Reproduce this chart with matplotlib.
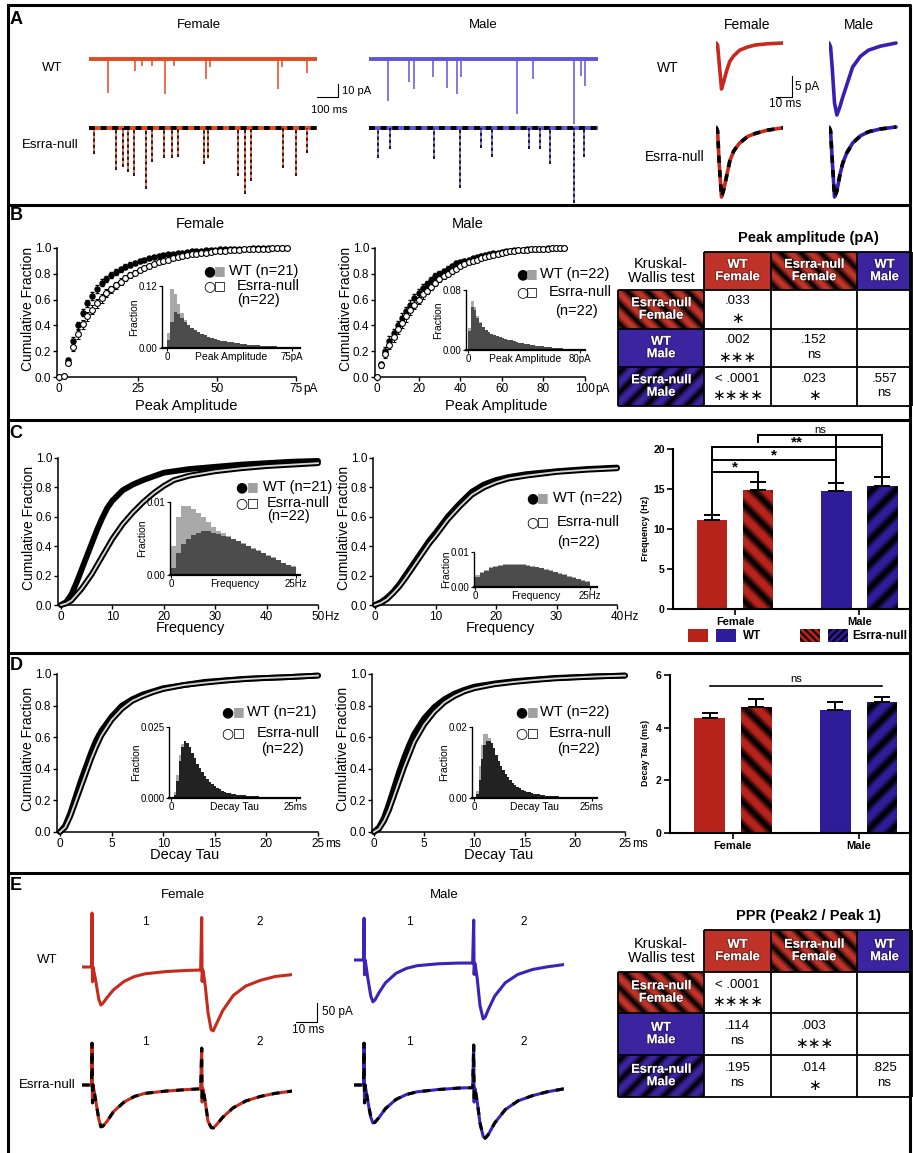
import numpy as np
import matplotlib
matplotlib.use("Agg")
import matplotlib.pyplot as plt
from matplotlib.patches import Rectangle, Polygon
from matplotlib.transforms import IdentityTransform
import matplotlib.patheffects as pe
import logging
logging.getLogger("matplotlib.font_manager").setLevel(logging.ERROR)

# ============================ DATA ============================
# Panel A: spontaneous traces, event time (ms) and amplitude (pA)
trace_len_ms = 1086
a_fwt_t = [89, 217, 253, 302, 362, 405, 557, 577, 898, 918, 1040]
a_fwt_amp = [26, 9, 5, 5, 27, 5, 15, 6, 23, 6, 11]
a_mwt_t = [92, 188, 213, 302, 371, 415, 434, 700, 780, 973, 1007, 1026]
a_mwt_amp = [32, 18, 23, 14, 22, 27, 14, 42, 15, 50, 13, 21]
a_fnull_t = [24, 128, 162, 188, 212, 273, 302, 355, 395, 425, 548, 567, 711, 741, 770, 924, 987, 1037]
a_fnull_amp = [20, 32, 30, 34, 37, 47, 26, 23, 23, 22, 28, 23, 37, 51, 41, 31, 37, 19]
a_mnull_t = [43, 99, 306, 430, 533, 582, 760, 809, 859, 973, 1021]
a_mnull_amp = [23, 16, 24, 46, 15, 22, 16, 16, 28, 58, 22]
# Panel A: averaged mEPSCs (ms, pA)
avg_t = [0, 0.8, 1.6, 2.8, 4, 5.5, 7, 9, 12, 16, 20, 26, 34]
avg_fwt = [0, -0.5, -5, -11.5, -9.5, -6.8, -4.6, -3.2, -1.8, -1.0, -0.5, -0.2, 0]
avg_mwt = [0, -1, -6, -15, -18, -16, -13.5, -10.5, -6, -3.3, -1.8, -0.8, 0]
avg_fnull = [0, -1, -9, -17.5, -15.5, -12, -8.5, -6, -4, -2.4, -1.6, -0.8, -0.2]
avg_mnull = [0, -1, -8, -17.5, -16, -12, -9, -6.5, -4, -2.2, -1.2, -0.5, 0]

# Panel B: cumulative peak amplitude
b_f_amp = [0, 1.5, 3, 4.5, 6, 7.5, 9, 10.5, 12, 13.5, 15, 16.5, 18, 19.5, 21, 22.5, 24, 25.5, 27, 28.5,
           30, 31.5, 33, 34.5, 36, 37.5, 39, 40.5, 42, 43.5, 45, 46.5, 48, 49.5, 51, 52.5, 54, 55.5, 57,
           58.5, 60, 61.5, 63, 64.5, 66, 67.5, 69, 70.5, 72]
b_f_wt = [0.00, 0.01, 0.13, 0.28, 0.40, 0.50, 0.57, 0.63, 0.68, 0.73, 0.76, 0.79, 0.815, 0.835, 0.855, 0.87,
          0.885, 0.90, 0.91, 0.92, 0.93, 0.94, 0.945, 0.95, 0.955, 0.96, 0.965, 0.97, 0.975, 0.978, 0.98,
          0.983, 0.985, 0.987, 0.989, 0.99, 0.992, 0.993, 0.994, 0.995, 0.996, 0.997, 0.997, 0.998, 0.998,
          0.999, 0.999, 1.0, 1.0]
b_f_null = [0.00, 0.01, 0.11, 0.23, 0.33, 0.41, 0.47, 0.52, 0.57, 0.61, 0.65, 0.68, 0.71, 0.74, 0.765, 0.79,
            0.81, 0.83, 0.845, 0.86, 0.875, 0.89, 0.90, 0.91, 0.92, 0.93, 0.94, 0.945, 0.95, 0.955, 0.96,
            0.965, 0.97, 0.974, 0.977, 0.98, 0.983, 0.985, 0.987, 0.989, 0.991, 0.993, 0.994, 0.995, 0.996,
            0.997, 0.998, 0.999, 1.0]
b_f_wt_sem = [0, 0.005, 0.02, 0.03, 0.03, 0.03, 0.03, 0.03, 0.03, 0.028, 0.026, 0.024, 0.022, 0.02, 0.019,
              0.018, 0.016, 0.015, 0.014, 0.013, 0.012, 0.011, 0.01, 0.009, 0.008, 0.008, 0.007, 0.006, 0.006,
              0.005, 0.005, 0.004, 0.004, 0.004, 0.003, 0.003, 0.003, 0.003, 0.002, 0.002, 0.002, 0.002,
              0.002, 0.002, 0.001, 0.001, 0.001, 0.001, 0.001]
b_f_null_sem = [0, 0.005, 0.02, 0.03, 0.035, 0.035, 0.035, 0.035, 0.035, 0.033, 0.031, 0.029, 0.027, 0.025,
                0.023, 0.021, 0.019, 0.018, 0.017, 0.016, 0.015, 0.014, 0.013, 0.012, 0.011, 0.01, 0.009,
                0.008, 0.008, 0.007, 0.007, 0.006, 0.006, 0.005, 0.005, 0.004, 0.004, 0.004, 0.003, 0.003,
                0.003, 0.003, 0.002, 0.002, 0.002, 0.002, 0.001, 0.001, 0.001]
b_m_amp = [0, 2, 4, 6, 8, 10, 12, 14, 16, 18, 20, 22, 24, 26, 28, 30, 32, 34, 36, 38, 40, 42, 44, 46, 48,
           50, 52, 54, 56, 58, 60, 62, 64, 66, 68, 70, 72, 74, 76, 78, 80, 82, 84, 86, 88, 90]
b_m_wt = [0.0, 0.10, 0.20, 0.28, 0.34, 0.40, 0.46, 0.51, 0.56, 0.61, 0.65, 0.69, 0.72, 0.75, 0.78, 0.80,
          0.82, 0.84, 0.86, 0.88, 0.89, 0.90, 0.91, 0.92, 0.93, 0.94, 0.945, 0.95, 0.96, 0.965, 0.97, 0.975,
          0.98, 0.983, 0.986, 0.988, 0.99, 0.992, 0.994, 0.995, 0.996, 0.997, 0.998, 0.999, 1.0, 1.0]
b_m_null = [0.0, 0.09, 0.18, 0.25, 0.31, 0.37, 0.42, 0.47, 0.52, 0.56, 0.60, 0.64, 0.67, 0.70, 0.73, 0.76,
            0.78, 0.80, 0.82, 0.84, 0.86, 0.875, 0.89, 0.90, 0.91, 0.92, 0.93, 0.94, 0.948, 0.955, 0.962,
            0.968, 0.974, 0.978, 0.982, 0.985, 0.988, 0.99, 0.992, 0.994, 0.995, 0.996, 0.997, 0.998, 0.999,
            1.0]
b_m_wt_sem = [0, 0.02, 0.03, 0.035, 0.035, 0.035, 0.035, 0.035, 0.035, 0.033, 0.031, 0.029, 0.027, 0.025,
              0.023, 0.021, 0.019, 0.018, 0.017, 0.016, 0.015, 0.014, 0.013, 0.012, 0.011, 0.01, 0.009,
              0.008, 0.008, 0.007, 0.007, 0.006, 0.006, 0.005, 0.005, 0.004, 0.004, 0.004, 0.003, 0.003,
              0.003, 0.002, 0.002, 0.002, 0.001, 0.001]
b_m_null_sem = [0, 0.02, 0.03, 0.035, 0.04, 0.04, 0.04, 0.04, 0.038, 0.036, 0.034, 0.032, 0.03, 0.028,
                0.026, 0.024, 0.022, 0.02, 0.018, 0.017, 0.016, 0.015, 0.014, 0.013, 0.012, 0.011, 0.01,
                0.009, 0.008, 0.008, 0.007, 0.006, 0.006, 0.005, 0.005, 0.004, 0.004, 0.004, 0.003, 0.003,
                0.003, 0.002, 0.002, 0.002, 0.001, 0.001]
# Panel B insets: amplitude histograms (2 pA bins)
hb_f_wt = [0.03, 0.115, 0.105, 0.085, 0.068, 0.055, 0.045, 0.038, 0.032, 0.027, 0.023, 0.02, 0.017, 0.015,
           0.013, 0.011, 0.01, 0.009, 0.008, 0.007, 0.006, 0.0055, 0.005, 0.0045, 0.004, 0.0035, 0.003,
           0.003, 0.0025, 0.002, 0.002, 0.0015, 0.0015, 0.001, 0.001, 0.001, 0.001]
hb_f_null = [0.015, 0.05, 0.07, 0.065, 0.058, 0.05, 0.044, 0.039, 0.035, 0.031, 0.028, 0.025, 0.022, 0.02,
             0.018, 0.016, 0.014, 0.013, 0.012, 0.011, 0.01, 0.009, 0.008, 0.007, 0.0065, 0.006, 0.0055,
             0.005, 0.0045, 0.004, 0.0035, 0.003, 0.003, 0.0025, 0.002, 0.002, 0.002]
hb_m_wt = [0.03, 0.065, 0.058, 0.045, 0.037, 0.031, 0.027, 0.024, 0.022, 0.02, 0.018, 0.017, 0.016, 0.014,
           0.013, 0.012, 0.011, 0.01, 0.009, 0.008, 0.0075, 0.007, 0.0065, 0.006, 0.0055, 0.005, 0.0045,
           0.004, 0.0035, 0.003, 0.003, 0.0025, 0.0025, 0.002, 0.002, 0.0015, 0.0015, 0.001, 0.001, 0.001]
hb_m_null = [0.025, 0.058, 0.054, 0.043, 0.036, 0.031, 0.027, 0.024, 0.022, 0.02, 0.019, 0.018, 0.016,
             0.015, 0.014, 0.013, 0.012, 0.011, 0.01, 0.009, 0.0085, 0.008, 0.0072, 0.0065, 0.006, 0.0055,
             0.005, 0.0045, 0.004, 0.0035, 0.003, 0.003, 0.0025, 0.0025, 0.002, 0.002, 0.0015, 0.0015,
             0.001, 0.001]

# Panel C: cumulative frequency
c_f_hz = [0, 1, 2, 3, 4, 5, 6, 7, 8, 9, 10, 12, 14, 16, 18, 20, 22, 25, 30, 35, 40, 45, 50]
c_f_wt = [0, 0.02, 0.07, 0.15, 0.24, 0.33, 0.42, 0.51, 0.59, 0.66, 0.71, 0.78, 0.82, 0.85, 0.875, 0.90,
          0.91, 0.925, 0.94, 0.955, 0.965, 0.975, 0.98]
c_f_null = [0, 0.01, 0.03, 0.07, 0.11, 0.16, 0.21, 0.27, 0.33, 0.39, 0.45, 0.55, 0.63, 0.70, 0.76, 0.81,
            0.85, 0.88, 0.91, 0.93, 0.945, 0.955, 0.965]
c_m_hz = [0, 1, 2, 3, 4, 5, 6, 7, 8, 9, 10, 12, 14, 16, 18, 20, 22, 25, 30, 35, 40]
c_m_wt = [0, 0.02, 0.05, 0.09, 0.14, 0.20, 0.26, 0.32, 0.38, 0.44, 0.49, 0.60, 0.69, 0.77, 0.82, 0.85,
          0.87, 0.89, 0.91, 0.925, 0.935]
c_m_null = [0, 0.015, 0.04, 0.08, 0.125, 0.18, 0.24, 0.30, 0.36, 0.42, 0.47, 0.58, 0.67, 0.75, 0.80, 0.835,
            0.86, 0.88, 0.905, 0.92, 0.93]
# Panel C insets (1 Hz bins)
hc_f_wt = [0.004, 0.008, 0.0095, 0.0095, 0.009, 0.0085, 0.008, 0.0072, 0.0066, 0.006, 0.0057, 0.0053,
           0.005, 0.0047, 0.0044, 0.004, 0.0037, 0.0034, 0.003, 0.0027, 0.0024, 0.002, 0.0017, 0.0014, 0.0012]
hc_f_null = [0.001, 0.003, 0.0042, 0.005, 0.0055, 0.0058, 0.006, 0.006, 0.0058, 0.0056, 0.0054, 0.0052,
             0.0049, 0.0046, 0.0043, 0.004, 0.0036, 0.0033, 0.003, 0.0026, 0.0023, 0.002, 0.0017, 0.0014,
             0.0011]
hc_m_wt = [0.0033, 0.0042, 0.005, 0.0056, 0.006, 0.0064, 0.0066, 0.0067, 0.0067, 0.0066, 0.0065, 0.0063,
           0.0061, 0.0058, 0.0055, 0.0052, 0.0048, 0.0044, 0.004, 0.0036, 0.0032, 0.0028, 0.0024, 0.002,
           0.0016]
hc_m_null = [0.003, 0.0039, 0.0047, 0.0053, 0.0057, 0.0061, 0.0063, 0.0064, 0.0064, 0.0063, 0.0062, 0.006,
             0.0058, 0.0056, 0.0053, 0.005, 0.0046, 0.0042, 0.0038, 0.0034, 0.003, 0.0026, 0.0022, 0.0018,
             0.0014]

# Panel D: cumulative decay tau
d_ms = [0, 0.5, 1, 1.5, 2, 2.5, 3, 3.5, 4, 5, 6, 7, 8, 9, 10, 12, 14, 16, 18, 20, 22, 25]
d_f_wt = [0, 0.04, 0.12, 0.22, 0.32, 0.41, 0.50, 0.58, 0.64, 0.73, 0.80, 0.84, 0.87, 0.89, 0.91, 0.93,
          0.95, 0.96, 0.97, 0.975, 0.98, 0.99]
d_f_null = [0, 0.03, 0.10, 0.19, 0.28, 0.37, 0.46, 0.54, 0.61, 0.71, 0.78, 0.83, 0.86, 0.885, 0.905, 0.93,
            0.945, 0.958, 0.968, 0.975, 0.98, 0.99]
d_m_wt = [0, 0.03, 0.09, 0.18, 0.28, 0.38, 0.47, 0.55, 0.62, 0.72, 0.79, 0.84, 0.875, 0.90, 0.92, 0.94,
          0.955, 0.965, 0.975, 0.98, 0.985, 0.99]
d_m_null = [0, 0.02, 0.07, 0.14, 0.23, 0.32, 0.41, 0.49, 0.57, 0.68, 0.76, 0.82, 0.86, 0.89, 0.91, 0.935,
            0.95, 0.962, 0.972, 0.978, 0.984, 0.99]
# Panel D insets (0.5 ms bins)
hd_f_wt = [0.0, 0.002, 0.008, 0.015, 0.019, 0.020, 0.019, 0.017, 0.015, 0.013, 0.011, 0.0095, 0.008, 0.007,
           0.006, 0.005, 0.0043, 0.0037, 0.0032, 0.0028, 0.0024, 0.0021, 0.0018, 0.0016, 0.0014, 0.0012,
           0.0011, 0.001, 0.0009, 0.0008, 0.0007, 0.0007, 0.0006, 0.0006, 0.0005, 0.0005, 0.0004, 0.0004,
           0.0004, 0.0003, 0.0003, 0.0003, 0.0003, 0.0002, 0.0002, 0.0002, 0.0002, 0.0002, 0.0001, 0.0001]
hd_f_null = [0.0, 0.001, 0.006, 0.013, 0.018, 0.020, 0.0195, 0.018, 0.016, 0.014, 0.012, 0.0105, 0.009,
             0.0078, 0.0066, 0.0056, 0.0048, 0.0041, 0.0035, 0.003, 0.0026, 0.0022, 0.0019, 0.0017, 0.0015,
             0.0013, 0.0012, 0.0011, 0.001, 0.0009, 0.0008, 0.0007, 0.0007, 0.0006, 0.0006, 0.0005, 0.0005,
             0.0004, 0.0004, 0.0004, 0.0003, 0.0003, 0.0003, 0.0002, 0.0002, 0.0002, 0.0002, 0.0002,
             0.0001, 0.0001]
hd_m_wt = [0.0, 0.002, 0.009, 0.015, 0.018, 0.018, 0.017, 0.015, 0.013, 0.011, 0.0095, 0.008, 0.007, 0.006,
           0.0052, 0.0045, 0.0038, 0.0033, 0.0028, 0.0024, 0.002, 0.0018, 0.0016, 0.0014, 0.0012, 0.0011,
           0.001, 0.0009, 0.0008, 0.0007, 0.0007, 0.0006, 0.0006, 0.0005, 0.0005, 0.0004, 0.0004, 0.0004,
           0.0003, 0.0003, 0.0003, 0.0003, 0.0002, 0.0002, 0.0002, 0.0002, 0.0002, 0.0001, 0.0001, 0.0001]
hd_m_null = [0.0, 0.001, 0.005, 0.011, 0.015, 0.016, 0.016, 0.0155, 0.014, 0.012, 0.0105, 0.009, 0.008,
             0.0068, 0.0058, 0.005, 0.0043, 0.0037, 0.0032, 0.0027, 0.0023, 0.002, 0.0018, 0.0016, 0.0014,
             0.0012, 0.0011, 0.001, 0.0009, 0.0008, 0.0007, 0.0007, 0.0006, 0.0006, 0.0005, 0.0005, 0.0004,
             0.0004, 0.0004, 0.0003, 0.0003, 0.0003, 0.0003, 0.0002, 0.0002, 0.0002, 0.0002, 0.0001,
             0.0001, 0.0001]

# Bar charts (order: WT F, null F, WT M, null M)
groups = ["Female", "Male"]
freq_mean = [11.1, 14.9, 14.7, 15.4]
freq_sem = [0.7, 0.95, 1.0, 1.05]
tau_mean = [4.38, 4.80, 4.67, 4.96]
tau_sem = [0.17, 0.30, 0.29, 0.22]

# Tables (rows: null F, WT M, null M ; cols: WT F, null F, WT M)
amp_p = [[".033", "", ""], [".002", ".152", ""], ["< .0001", ".023", ".557"]]
amp_sig = [["*", "", ""], ["***", "ns", ""], ["****", "*", "ns"]]
ppr_p = [["< .0001", "", ""], [".114", ".003", ""], [".195", ".014", ".825"]]
ppr_sig = [["****", "", ""], ["ns", "***", ""], ["ns", "*", "ns"]]

# Panel E: paired-pulse traces (ms, pA)
e_t = [0, 4.5, 4.8, 5.0, 5.3, 5.6, 6.5, 8, 9, 10, 12, 15, 20, 25, 30, 40, 50, 56.5, 57, 57.2, 57.5, 57.8,
       58.7, 60, 61.5, 62.5, 64, 67, 72, 78, 85, 92, 100]
e_fwt = [0, 0, 142, -39, 0, -10, -35, -85, -100, -95, -80, -60, -38, -25, -18, -12, -9, -8, 130, -38, -8,
         -15, -50, -120, -165, -168, -150, -115, -75, -50, -35, -25, -20]
e_mwt = [0, 0, 110, -39, 0, -10, -45, -95, -110, -105, -85, -60, -35, -22, -15, -10, -8, -8, 105, -38, -8,
         -15, -50, -120, -155, -150, -130, -95, -60, -38, -25, -18, -12]
e_fnull = [0, 0, 110, -47, 0, -10, -40, -90, -110, -108, -95, -70, -45, -30, -22, -16, -12, -10, 97, -45,
           -10, -15, -45, -95, -112, -113, -105, -85, -60, -42, -30, -22, -16]
e_mnull = [0, 0, 110, -47, 0, -10, -40, -85, -100, -98, -85, -62, -38, -25, -18, -12, -8, -7, 105, -45, -8,
           -15, -45, -100, -135, -140, -130, -100, -65, -42, -28, -18, -10]

# ============================ STYLE ============================
W, H = 913, 1153
fig = plt.figure(figsize=(W / 100, H / 100), dpi=100)
plt.rcParams["font.family"] = ["Liberation Sans", "DejaVu Sans"]
NARROW = ["Liberation Sans Narrow", "Liberation Sans", "DejaVu Sans"]
SYM = ["DejaVu Sans"]

TR_RED, TR_BLUE = "#e24a22", "#5f55d8"
AV_RED, AV_BLUE = "#c9281c", "#3a1db4"
E_RED, E_BLUE = "#c62a1d", "#3c22b8"
BAR_RED, BAR_BLUE = "#b5231b", "#2f1c98"
TB_RED, TB_BLUE = "#be3228", "#3c23a0"
WT_GRAY, NULL_GRAY = "#a9a9a9", "#4c4c4c"

ov = fig.add_axes([0, 0, 1, 1], zorder=20)
ov.set_xlim(0, W)
ov.set_ylim(H, 0)
ov.axis("off")
ov.patch.set_visible(False)


def T(x, y, s, size=9.5, ha="center", va="center", **kw):
    return ov.text(x, y, s, fontsize=size, ha=ha, va=va, **kw)


def px_axes(x0, x1, yt, yb, z=2):
    ax = fig.add_axes([x0 / W, 1 - yb / H, (x1 - x0) / W, (yb - yt) / H], zorder=z)
    ax.patch.set_visible(False)
    return ax


def trace_axes(x0, x1, yt, yb, xlim, base_y, ppu):
    ax = px_axes(x0, x1, yt, yb)
    ax.set_xlim(*xlim)
    ax.set_ylim(-(yb - base_y) / ppu, (base_y - yt) / ppu)
    ax.axis("off")
    return ax


def add_stripes(ax, patch, direction, period, layers):
    bb = patch.get_window_extent()
    x0, y0, x1, y1 = bb.x0, bb.y0, bb.x1, bb.y1
    wmax = max(w for w, a in layers)
    if direction == "\\":
        cs = np.arange(x0 + y0 - wmax, x1 + y1 + wmax + period, period)
    else:
        cs = np.arange(x0 - y1 - wmax, x1 - y0 + wmax + period, period)
    for c in cs:
        for w, a in layers:
            if direction == "\\":
                pts = [(c - w / 2 - y0, y0), (c + w / 2 - y0, y0), (c + w / 2 - y1, y1), (c - w / 2 - y1, y1)]
            else:
                pts = [(c - w / 2 + y0, y0), (c + w / 2 + y0, y0), (c + w / 2 + y1, y1), (c - w / 2 + y1, y1)]
            poly = Polygon(pts, closed=True, transform=IdentityTransform(), facecolor="black",
                           edgecolor="none", alpha=a, zorder=patch.get_zorder() + 0.1)
            ax.add_artist(poly)
            poly.set_clip_path(patch)


LAYERS_TBL = ((13, 0.3), (8, 0.45), (4, 0.85))
LAYERS_BAR = ((15, 0.3), (10, 0.5), (5, 0.9))

# ============================ FRAME ============================
ov.plot([8, 910, 910, 8, 8], [5, 5, 1170, 1170, 5], color="black", lw=2.2, clip_on=False)
ov.hlines([205, 420, 653, 873], 8, 910, color="black", lw=2.2)
for lab, y in zip("ABCDE", [19, 216, 433, 666, 886]):
    T(16, y, lab, size=13, weight="bold")

# ============================ PANEL A ============================
T(199, 25, "Female", size=9.5)
T(483, 25, "Male", size=9.5)
T(52, 68, "WT", size=9.5)
T(50, 145, "Esrra-null", size=9.5)
T(747, 25, "Female", size=10)
T(859, 25, "Male", size=10)
T(668, 68, "WT", size=10)
T(675, 157, "Esrra-null", size=10)


def spont(ax, t, amp, color, null=False):
    neg = -np.asarray(amp, dtype=float)
    ax.hlines(0, 0, trace_len_ms, color=color, lw=2.8)
    ax.vlines(t, neg, 0, color=color, lw=1.1)
    if null:
        ax.hlines(0, 0, trace_len_ms, color="black", lw=2.8, linestyles=(0, (1.5, 1.5)))
        ax.vlines(t, neg, 0, color="black", lw=1.1, linestyles=(0, (2, 2)))


spont(trace_axes(89, 317, 45, 125, (0, trace_len_ms), 59, 1.3), a_fwt_t, a_fwt_amp, TR_RED)
spont(trace_axes(369, 598, 45, 135, (0, trace_len_ms), 59, 1.3), a_mwt_t, a_mwt_amp, TR_BLUE)
spont(trace_axes(89, 317, 112, 205, (0, trace_len_ms), 128, 1.3), a_fnull_t, a_fnull_amp, TR_RED, True)
spont(trace_axes(369, 598, 112, 205, (0, trace_len_ms), 128, 1.3), a_mnull_t, a_mnull_amp, TR_BLUE, True)

ov.plot([317, 338, 338], [97, 97, 84], color="black", lw=0.8)
T(342, 91, "10 pA", size=8, ha="left")
T(329, 110, "100 ms", size=8)


def avg_plot(ax, y, color, null=False):
    ax.plot(avg_t, y, color=color, lw=2.6, solid_capstyle="round")
    if null:
        ax.plot(avg_t, y, color="black", lw=2.6, linestyle=(0, (2, 2)))


avg_plot(trace_axes(716, 783, 33, 125, (0, 34), 43, 4), avg_fwt, AV_RED)
avg_plot(trace_axes(829, 898, 33, 125, (0, 35), 43, 4), avg_mwt, AV_BLUE)
avg_plot(trace_axes(716, 783, 117, 205, (0, 34), 127, 4), avg_fnull, AV_RED, True)
avg_plot(trace_axes(829, 898, 117, 205, (0, 35), 127, 4), avg_mnull, AV_BLUE, True)
ov.plot([776, 792, 792], [97, 97, 76], color="black", lw=0.8)
T(795, 87, "5 pA", size=8.5, ha="left")
T(785, 104, "10 ms", size=8.5)

# ============================ CUMULATIVE HELPERS ============================


def cum_axes(spine_x, x0, x1, xmax, y1, y0, ticks, unit):
    s = (x1 - x0) / xmax
    ax = px_axes(spine_x, x1, y1, y0)
    ax.set_xlim(-(x0 - spine_x) / s, xmax)
    ax.set_ylim(0, 1.0)
    for sp in ("top", "right"):
        ax.spines[sp].set_visible(False)
    for sp in ("left", "bottom"):
        ax.spines[sp].set_linewidth(1.1)
    ax.set_yticks([0, 0.2, 0.4, 0.6, 0.8, 1.0])
    ax.set_yticklabels(["0.0", "0.2", "0.4", "0.6", "0.8", "1.0"])
    ax.set_xticks(ticks)
    ax.set_xticklabels([str(t) for t in ticks])
    ax.tick_params(length=3, width=1, pad=1.2, labelsize=8.5)
    for lab in ax.get_xticklabels() + ax.get_yticklabels():
        lab.set_family(NARROW)
    half = len(str(ticks[-1])) * 2.3 + 0.6
    ax.annotate(unit, xy=(xmax, 0), xycoords="data", xytext=(half, -4.2), textcoords="offset points",
                ha="left", va="top", fontsize=8.5, family=NARROW)
    T(spine_x - 29, (y1 + y0) / 2 - 4, "Cumulative Fraction", size=10, rotation=90, family=NARROW)
    return ax


def hist_inset(xs, x0, xv, xe, yt, yb, xmax, ymax, ylabs, xname, lastlab, centers, width, wt, null,
               null_color=NULL_GRAY):
    s = (xv - x0) / xmax
    ax = px_axes(xs, xe, yt, yb, z=3)
    ax.set_xlim(-(x0 - xs) / s, xmax + (xe - xv) / s)
    ax.set_ylim(0, ymax)
    ax.bar(centers, wt, width=width, color=WT_GRAY, lw=0)
    ax.bar(centers, null, width=width, color=null_color, lw=0)
    for sp in ("top", "right"):
        ax.spines[sp].set_visible(False)
    ax.spines["left"].set_linewidth(1)
    ax.spines["bottom"].set_linewidth(1.6)
    ax.set_yticks([0, ymax])
    ax.set_yticklabels(ylabs)
    ax.set_xticks([0, xmax])
    ax.set_xticklabels(["0", lastlab])
    ax.tick_params(length=2, width=0.8, pad=1, labelsize=7)
    for lab in ax.get_xticklabels() + ax.get_yticklabels():
        lab.set_family(NARROW)
    ax.set_ylabel("Fraction", fontsize=7.5, family=NARROW, labelpad=0)
    ax.annotate(xname, xy=(0.5, 0), xycoords="axes fraction", xytext=(0, -3), textcoords="offset points",
                ha="center", va="top", fontsize=7.5, family=NARROW)
    return ax


def legend(xc, xsq, xt1, xt2, y1, y2, y3, x3, nwt):
    T(xc, y1, "\u25CF", size=10, family=SYM)
    T(xsq, y1, "\u25A0", size=9, color="#a0a0a0", family=SYM)
    T(xt1, y1, nwt, size=10.5, ha="left", family=NARROW)
    T(xc, y2, "\u25CB", size=10, family=SYM)
    T(xsq, y2, "\u25A1", size=9, family=SYM)
    T(xt2, y2, "Esrra-null", size=10.5, ha="left", family=NARROW)
    T(x3, y3, "(n=22)", size=10.5, family=NARROW)


def cum_band(ax, x, wt, null):
    ax.plot(x, wt, color="black", lw=4.2, solid_capstyle="round", clip_on=False, zorder=3)
    ax.plot(x, null, color="black", lw=4.2, solid_capstyle="round", clip_on=False, zorder=3)
    ax.plot(x, null, color="#d8d8d8", lw=1.3, clip_on=False, zorder=4)


# ============================ PANEL B ============================
T(200, 224, "Female", size=10.5)
T(468, 224, "Male", size=10.5)
ax = cum_axes(57, 59, 296, 75, 248, 377, [0, 25, 50, 75], "pA")
ax.errorbar(b_f_amp, b_f_wt, yerr=b_f_wt_sem, fmt="o", ms=3.6, mfc="black", mec="black", ecolor="black",
            elinewidth=0.7, capsize=1.3, clip_on=False, zorder=3)
ax.errorbar(b_f_amp, b_f_null, yerr=b_f_null_sem, fmt="o", ms=4.2, mfc="white", mec="black", mew=0.8,
            ecolor="black", elinewidth=0.7, capsize=1.3, clip_on=False, zorder=4)
ax = cum_axes(375, 377, 585, 100, 248, 377, [0, 20, 40, 60, 80, 100], "pA")
ax.errorbar(b_m_amp, b_m_wt, yerr=b_m_wt_sem, fmt="o", ms=3.6, mfc="black", mec="black", ecolor="black",
            elinewidth=0.7, capsize=1.3, clip_on=False, zorder=3)
ax.errorbar(b_m_amp, b_m_null, yerr=b_m_null_sem, fmt="o", ms=4.2, mfc="white", mec="black", mew=0.8,
            ecolor="black", elinewidth=0.7, capsize=1.3, clip_on=False, zorder=4)
hist_inset(162, 167, 292, 300, 286, 348, 75, 0.12, ["0.00", "0.12"], "Peak Amplitude", "75pA",
           np.arange(1, 74, 2), 2, hb_f_wt, hb_f_null)
hist_inset(466, 468, 580, 585, 290, 350, 80, 0.08, ["0.00", "0.08"], "Peak Amplitude", "80pA",
           np.arange(1, 80, 2), 2, hb_m_wt, hb_m_null)
legend(209, 220, 229, 237, 271, 286, 300, 259, "WT (n=21)")
legend(522, 532, 540, 549, 274, 292, 311, 577, "WT (n=22)")
T(186, 406, "Peak Amplitude", size=10.5, family=NARROW)
T(496, 406, "Peak Amplitude", size=10.5, family=NARROW)

# ============================ PANEL C ============================
ax = cum_axes(58, 61, 318, 50, 458, 605, [0, 10, 20, 30, 40, 50], "Hz")
cum_band(ax, c_f_hz, c_f_wt, c_f_null)
ax = cum_axes(373, 375, 617, 40, 458, 605, [0, 10, 20, 30, 40], "Hz")
cum_band(ax, c_m_hz, c_m_wt, c_m_null)
hist_inset(170, 171, 296, 300, 502, 575, 25, 0.01, ["0.00", "0.01"], "Frequency", "25Hz",
           np.arange(0.5, 25, 1), 1, hc_f_wt, hc_f_null)
hist_inset(474, 475, 590, 597, 552, 587, 25, 0.01, ["0.00", "0.01"], "Frequency", "25Hz",
           np.arange(0.5, 25, 1), 1, hc_m_wt, hc_m_null)
legend(241, 253, 263, 267, 487, 503, 516, 289, "WT (n=21)")
legend(532, 543, 553, 557, 498, 522, 542, 579, "WT (n=22)")
T(190, 628, "Frequency", size=10.5, family=NARROW)
T(500, 628, "Frequency", size=10.5, family=NARROW)

# ============================ PANEL D ============================
ax = cum_axes(57, 60, 318, 25, 674, 832, [0, 5, 10, 15, 20, 25], "ms")
cum_band(ax, d_ms, d_f_wt, d_f_null)
ax = cum_axes(372, 374, 625, 25, 674, 832, [0, 5, 10, 15, 20, 25], "ms")
cum_band(ax, d_ms, d_m_wt, d_m_null)
hist_inset(169, 171, 296, 300, 727, 798, 25, 0.025, ["0.000", "0.025"], "Decay Tau", "25ms",
           np.arange(0.25, 25, 0.5), 0.5, hd_f_wt, hd_f_null, "#222222")
hist_inset(472, 474, 592, 597, 727, 798, 25, 0.02, ["0.00", "0.02"], "Decay Tau", "25ms",
           np.arange(0.25, 25, 0.5), 0.5, hd_m_wt, hd_m_null, "#222222")
legend(227, 239, 247, 257, 712, 733, 749, 283, "WT (n=21)")
legend(521, 533, 540, 549, 712, 733, 749, 579, "WT (n=22)")
T(185, 855, "Decay Tau", size=10.5, family=NARROW)
T(499, 855, "Decay Tau", size=10.5, family=NARROW)

# ============================ BAR CHARTS ============================
BX = [0, 1, 2.7, 3.7]
BAR_COLORS = [BAR_RED, BAR_RED, BAR_BLUE, BAR_BLUE]


def bar_axes(spine_x, yt, yb, ymax, yticks):
    ax = px_axes(spine_x, 910, yt, yb)
    ax.set_xlim(-0.85, 4.3)
    ax.set_ylim(0, ymax)
    for sp in ("top", "right"):
        ax.spines[sp].set_visible(False)
    for sp in ("left", "bottom"):
        ax.spines[sp].set_linewidth(1.5)
    ax.set_yticks(yticks)
    ax.set_xticks([(BX[0] + BX[1]) / 2, (BX[2] + BX[3]) / 2])
    ax.set_xticklabels(groups)
    ax.tick_params(length=4, width=1.2, pad=2, labelsize=7.5)
    for lab in ax.get_xticklabels() + ax.get_yticklabels():
        lab.set_fontweight("bold")
    ax.tick_params(axis="x", labelsize=8)
    return ax


def bars(ax, mean, sem):
    bs = ax.bar(BX, mean, width=0.66, color=BAR_COLORS, lw=0, zorder=2)
    add_stripes(ax, bs[1], "\\", 24, LAYERS_BAR)
    add_stripes(ax, bs[3], "/", 24, LAYERS_BAR)
    ax.errorbar(BX, mean, yerr=[[0, 0, 0, 0], sem], fmt="none", ecolor="black", elinewidth=1.4,
                capsize=5.5, capthick=1.4, zorder=3)


axc = bar_axes(673, 449, 609, 20, [0, 5, 10, 15, 20])
bars(axc, freq_mean, freq_sem)
kw = dict(color="black", lw=1.4, clip_on=False)
axc.plot([BX[1], BX[3]], [21.7, 21.7], **kw)
axc.plot([BX[1], BX[1]], [21.7, 20.9], **kw)
axc.plot([BX[2], BX[2]], [21.7, 15.9], **kw)
axc.plot([BX[3], BX[3]], [21.7, 16.6], **kw)
axc.plot([BX[0], BX[3]], [20.2, 20.2], **kw)
axc.plot([BX[0], BX[2]], [18.6, 18.6], **kw)
axc.plot([BX[0], BX[1]], [17.1, 17.1], **kw)
axc.plot([BX[1], BX[1]], [17.1, 16.0], **kw)
axc.plot([BX[0], BX[0]], [20.2, 11.95], **kw)
axc.text((BX[1] + BX[3]) / 2, 21.75, "ns", ha="center", va="bottom", fontsize=8)
axc.text((BX[0] + BX[3]) / 2, 19.9, "**", ha="center", va="bottom", fontsize=11, weight="bold")
axc.text((BX[0] + BX[2]) / 2, 18.3, "*", ha="center", va="bottom", fontsize=11, weight="bold")
axc.text((BX[0] + BX[1]) / 2, 16.8, "*", ha="center", va="bottom", fontsize=11, weight="bold")
T(645, 528, "Frequency (Hz)", size=6.5, rotation=90, weight="bold")

axd = bar_axes(670, 675, 833, 6, [0, 2, 4, 6])
bars(axd, tau_mean, tau_sem)
axd.plot([BX[0], BX[3]], [5.58, 5.58], color="black", lw=1.2, clip_on=False)
axd.text((BX[0] + BX[3]) / 2, 5.64, "ns", ha="center", va="bottom", fontsize=8)
T(645, 753, "Decay Tau (ms)", size=6.5, rotation=90, weight="bold")

# bar legend
for x0, col, st in [(688, BAR_RED, None), (716, BAR_BLUE, None), (800, BAR_RED, "\\"), (828, BAR_BLUE, "/")]:
    r = Rectangle((x0, 629), 20, 13, facecolor=col, edgecolor="none")
    ov.add_patch(r)
    if st:
        add_stripes(ov, r, st, 7, ((3.5, 0.5), (2, 0.9)))
T(743, 636, "WT", size=8.5, ha="left", weight="bold")
T(852, 636, "Esrra-null", size=8.5, ha="left", weight="bold")

# ============================ TABLES ============================
TBL_COLS = [618, 704, 771, 857, 912]
SHADOW = [pe.withStroke(linewidth=1.4, foreground="#00000055")]


def color_cell(x0, y0, x1, y1, col, stripe, txt):
    r = Rectangle((x0, y0), x1 - x0, y1 - y0, facecolor=col, edgecolor="none", zorder=1)
    ov.add_patch(r)
    if stripe:
        add_stripes(ov, r, stripe, 20, LAYERS_TBL)
    T((x0 + x1) / 2, (y0 + y1) / 2, txt, size=9.3, weight="bold", color="white", linespacing=1.05,
      path_effects=SHADOW, zorder=5)


def draw_table(rows, title, title_y, pvals, sigs):
    c = TBL_COLS
    hdr = [("WT\nFemale", TB_RED, None), ("Esrra-null\nFemale", TB_RED, "\\"), ("WT\nMale", TB_BLUE, None)]
    rh = [("Esrra-null\nFemale", TB_RED, "\\"), ("WT\nMale", TB_BLUE, None), ("Esrra-null\nMale", TB_BLUE, "/")]
    for j, (txt, col, st) in enumerate(hdr):
        color_cell(c[j + 1], rows[0], c[j + 2], rows[1], col, st, txt)
    for i, (txt, col, st) in enumerate(rh):
        color_cell(c[0], rows[i + 1], c[1], rows[i + 2], col, st, txt)
    for i in range(3):
        for j in range(3):
            xm = (c[j + 1] + c[j + 2]) / 2
            ym = (rows[i + 1] + rows[i + 2]) / 2
            if pvals[i][j]:
                T(xm, ym - 8, pvals[i][j], size=9.5)
            s = sigs[i][j]
            if s == "ns":
                T(xm, ym + 7, "ns", size=9.5)
            elif s:
                T(xm, ym + 9, "\u2217" * len(s), size=11, family=SYM)
    lw = 1.3
    ov.hlines(rows[1:], c[0], c[4], color="black", lw=lw, zorder=6)
    ov.hlines(rows[0], c[1], c[4], color="black", lw=lw, zorder=6)
    ov.vlines(c[1:], rows[0], rows[4], color="black", lw=lw, zorder=6)
    ov.vlines(c[0], rows[1], rows[4], color="black", lw=lw, zorder=6)
    T((c[0] + c[1]) / 2, (rows[0] + rows[1]) / 2, "Kruskal-\nWallis test", size=10.5, linespacing=1.05)
    T((c[1] + c[4]) / 2, title_y, title, size=10.5, weight="bold")


draw_table([252, 290, 329, 367, 406], "Peak amplitude (pA)", 238, amp_p, amp_sig)
draw_table([930, 972, 1013, 1055, 1097], "PPR (Peak2 / Peak 1)", 916, ppr_p, ppr_sig)

# ============================ PANEL E ============================
T(183, 895, "Female", size=9.5)
T(444, 895, "Male", size=9.5)
T(47, 960, "WT", size=9.5)
T(47, 1085, "Esrra-null", size=9.5)
for x in (145, 409):
    for y in (922, 1042):
        T(x, y, "1", size=8.5)
for x in (260, 524):
    for y in (922, 1042):
        T(x, y, "2", size=8.5)
ov.plot([296, 317, 317], [1022, 1022, 1003], color="black", lw=0.8)
T(322, 1012, "50 pA", size=8.5, ha="left")
T(308, 1030, "10 ms", size=8.5)


def ppr_plot(ax, y, color, null=False):
    ax.plot(e_t, y, color=color, lw=2.2, solid_joinstyle="round")
    if null:
        ax.plot(e_t, y, color="black", lw=2.2, linestyle=(0, (2.5, 2.5)))


ppr_plot(trace_axes(82, 292, 895, 1045, (0, 100), 967, 0.38), e_fwt, E_RED)
ppr_plot(trace_axes(354, 564, 895, 1045, (0, 100), 960, 0.38), e_mwt, E_BLUE)
ppr_plot(trace_axes(82, 292, 1025, 1150, (0, 100), 1085, 0.38), e_fnull, E_RED, True)
ppr_plot(trace_axes(354, 564, 1025, 1150, (0, 100), 1085, 0.38), e_mnull, E_BLUE, True)

fig.savefig("out.png", dpi=100)
